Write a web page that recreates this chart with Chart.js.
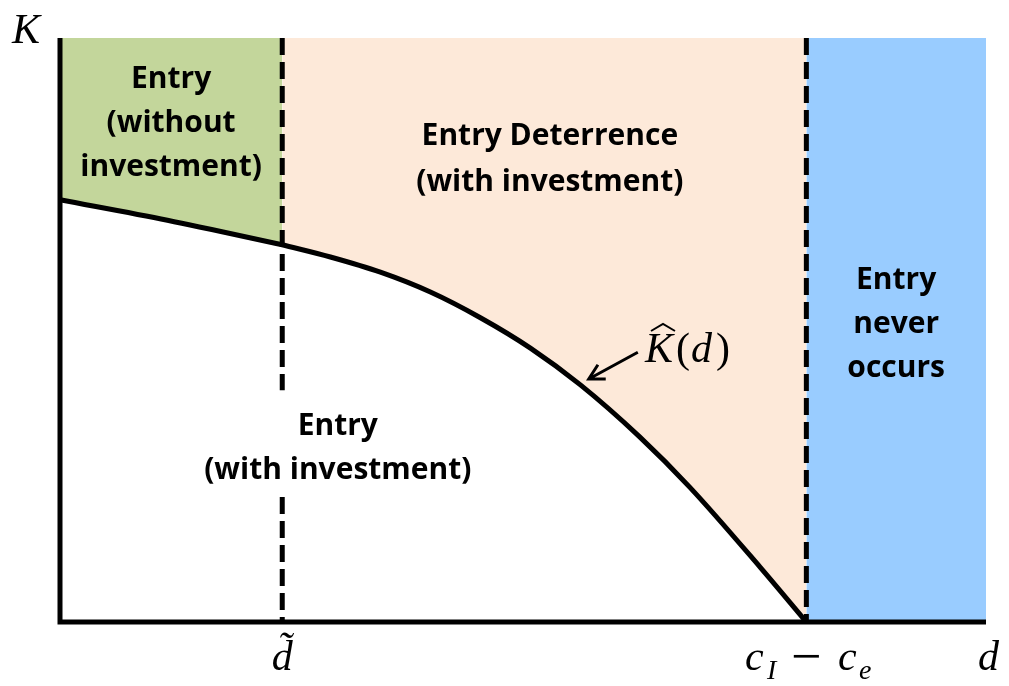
<!DOCTYPE html>
<html>
<head>
<meta charset="utf-8">
<script src="https://cdn.jsdelivr.net/npm/chart.js@4.4.0/dist/chart.umd.min.js"></script>
<style>
  html, body { margin: 0; padding: 0; background: #fff; }
  #wrap { width: 1009px; height: 686px; }
</style>
</head>
<body>
<div id="wrap"><canvas id="regions"></canvas></div>
<script>
// K-hat(d) boundary
const curveD = [0, 1.16, 2.40, 2.92, 3.46, 4.00, 4.54, 5.08, 5.62, 6.26, 6.80, 7.56, 8.06];
const curveK = [7.23, 6.88, 6.46, 6.25, 5.99, 5.65, 5.21, 4.69, 4.06, 3.17, 2.31, 0.94, 0];
const dTilde = 2.40;
const dCut = 8.06;   // c_I - c_e
const dMax = 10;
const kMax = 10;

const green = '#C3D69B';
const peach = '#FDE9D9';
const blue = '#99CCFF';

const pts = (xs, ys) => xs.map((x, i) => ({ x: x, y: ys[i] }));
const leftIdx = curveD.indexOf(dTilde);
const leftPart = pts(curveD.slice(0, leftIdx + 1), curveK.slice(0, leftIdx + 1));
const rightPart = pts(curveD.slice(leftIdx), curveK.slice(leftIdx));

const regionLabels = [
  { lines: ['Entry', '(without', 'investment)'], x: 1.20, y: 9.14, step: 0.755 },
  { lines: ['Entry Deterrence', '(with investment)'], x: 5.29, y: 8.17, step: 0.79 },
  { lines: ['Entry', 'never', 'occurs'], x: 9.03, y: 5.70, step: 0.755 },
  { lines: ['Entry', '(with investment)'], x: 3.00, y: 3.20, step: 0.755 }
];

const decor = {
  id: 'decor',
  afterDatasetsDraw(chart) {
    const ctx = chart.ctx;
    const xs = chart.scales.x, ys = chart.scales.y;
    const px = v => xs.getPixelForValue(v);
    const py = v => ys.getPixelForValue(v);
    const a = chart.chartArea;
    ctx.save();
    // axes
    ctx.strokeStyle = '#000';
    ctx.lineWidth = 5;
    ctx.lineCap = 'butt';
    ctx.beginPath();
    ctx.moveTo(a.left, a.top);
    ctx.lineTo(a.left, py(0) + 2.5);
    ctx.moveTo(a.left - 2.5, py(0));
    ctx.lineTo(a.right, py(0));
    ctx.stroke();

    // region text
    ctx.fillStyle = '#000';
    ctx.textAlign = 'center';
    ctx.textBaseline = 'alphabetic';
    ctx.font = 'bold 30px "Open Sans"';
    regionLabels.forEach(r => {
      r.lines.forEach((t, i) => {
        ctx.fillText(t, px(r.x), py(r.y - i * r.step));
      });
    });

    // arrow to the curve
    const x0 = px(6.24), y0 = py(4.62), x1 = px(5.71), y1 = py(4.16);
    ctx.lineWidth = 3;
    ctx.beginPath();
    ctx.moveTo(x0, y0);
    ctx.lineTo(x1, y1);
    const ang = Math.atan2(y1 - y0, x1 - x0);
    const h = 17;
    ctx.moveTo(x1 + h * Math.cos(ang + Math.PI - 0.5), y1 + h * Math.sin(ang + Math.PI - 0.5));
    ctx.lineTo(x1, y1);
    ctx.lineTo(x1 + h * Math.cos(ang + Math.PI + 0.5), y1 + h * Math.sin(ang + Math.PI + 0.5));
    ctx.stroke();

    // math labels
    const serif = '"Liberation Serif", "DejaVu Serif", serif';
    const it = 'italic 42px ' + serif;
    const up = '42px ' + serif;
    const sub = 'italic 28px ' + serif;
    ctx.textAlign = 'left';
    const put = (t, f, x, y) => { ctx.font = f; ctx.fillText(t, x, y); };
    put('K', it, 12, 43);
    put('d', it, 978, 670);
    ctx.textAlign = 'center';
    put('d\u0303', it, px(dTilde), 670);
    ctx.textAlign = 'left';

    // K-hat(d)
    put('K', it, 645, 362);
    put('(', up, 676, 362);
    put('d', it, 691, 362);
    put(')', up, 716, 362);
    ctx.lineWidth = 2;
    ctx.beginPath();
    ctx.moveTo(651, 331);
    ctx.lineTo(663, 324);
    ctx.lineTo(675, 331);
    ctx.stroke();

    // c_I - c_e
    put('c', it, 745, 670);
    put('I', sub, 767, 679);
    put('\u2212', '54px ' + serif, 791, 674);
    put('c', it, 838, 670);
    put('e', sub, 859, 679);
    ctx.restore();
  }
};

const lineBase = {
  showLine: true,
  pointRadius: 0,
  pointHoverRadius: 0,
  clip: 8
};

new Chart(document.getElementById('regions'), {
  type: 'scatter',
  data: {
    datasets: [
      Object.assign({}, lineBase, {
        label: 'Entry never occurs',
        data: [{ x: dCut, y: 0 }, { x: dMax, y: 0 }],
        borderWidth: 0,
        borderColor: 'rgba(0,0,0,0)',
        backgroundColor: blue,
        fill: 'end'
      }),
      Object.assign({}, lineBase, {
        label: 'Entry (without investment)',
        data: leftPart,
        borderColor: '#000',
        borderWidth: 5,
        backgroundColor: green,
        cubicInterpolationMode: 'monotone',
        fill: 'end'
      }),
      Object.assign({}, lineBase, {
        label: 'Entry Deterrence',
        data: rightPart,
        borderColor: '#000',
        borderWidth: 5,
        backgroundColor: peach,
        cubicInterpolationMode: 'monotone',
        fill: 'end'
      }),
      Object.assign({}, lineBase, {
        label: 'd tilde',
        data: [{ x: dTilde, y: kMax }, { x: dTilde, y: 3.97 }, { x: dTilde, y: null }, { x: dTilde, y: 2.14 }, { x: dTilde, y: 0 }],
        borderColor: '#000',
        borderWidth: 5,
        borderDash: [17, 7],
        spanGaps: false,
        fill: false
      }),
      Object.assign({}, lineBase, {
        label: 'cI - ce',
        data: [{ x: dCut, y: kMax }, { x: dCut, y: 0 }],
        borderColor: '#000',
        borderWidth: 5,
        borderDash: [17, 7],
        fill: false
      })
    ]
  },
  options: {
    responsive: true,
    maintainAspectRatio: false,
    animation: false,
    layout: { padding: { left: 60, right: 23, top: 38, bottom: 64 } },
    plugins: {
      legend: { display: false },
      tooltip: { enabled: false },
      title: { display: false },
      filler: { drawTime: 'beforeDatasetsDraw' }
    },
    scales: {
      x: { type: 'linear', min: 0, max: dMax, display: false },
      y: { type: 'linear', min: 0, max: kMax, display: false }
    }
  },
  plugins: [decor]
});
</script>
</body>
</html>
